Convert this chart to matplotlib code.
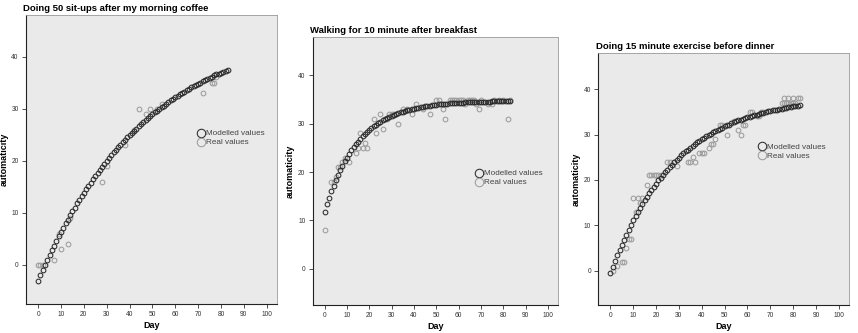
import numpy as np
import matplotlib
matplotlib.use("Agg")
import matplotlib.pyplot as plt

plt.rcParams['font.family'] = ['Liberation Sans', 'DejaVu Sans']

# modelled values, one per day 0..83
days_model = list(range(84))

model_1 = [-3.0, -2.0, -1.0, 0.0, 1.0, 1.9, 2.8, 3.7, 4.6, 5.5,
           6.3, 7.1, 8.0, 8.7, 9.5, 10.3, 11.0, 11.8, 12.5, 13.2,
           13.9, 14.5, 15.2, 15.8, 16.5, 17.1, 17.7, 18.3, 18.9, 19.4,
           20.0, 20.5, 21.1, 21.6, 22.1, 22.6, 23.1, 23.6, 24.0, 24.5,
           24.9, 25.4, 25.8, 26.2, 26.6, 27.0, 27.4, 27.8, 28.2, 28.6,
           28.9, 29.3, 29.6, 30.0, 30.3, 30.6, 31.0, 31.3, 31.6, 31.9,
           32.2, 32.5, 32.8, 33.0, 33.3, 33.6, 33.8, 34.1, 34.3, 34.6,
           34.8, 35.0, 35.3, 35.5, 35.7, 35.9, 36.1, 36.4, 36.6, 36.7,
           36.9, 37.1, 37.3, 37.5]

model_2 = [11.8, 13.3, 14.7, 16.0, 17.2, 18.3, 19.4, 20.4, 21.3, 22.2,
           23.0, 23.8, 24.5, 25.1, 25.7, 26.3, 26.9, 27.4, 27.9, 28.3,
           28.7, 29.1, 29.5, 29.8, 30.1, 30.4, 30.7, 31.0, 31.2, 31.4,
           31.6, 31.8, 32.0, 32.2, 32.4, 32.5, 32.7, 32.8, 32.9, 33.0,
           33.1, 33.2, 33.3, 33.4, 33.5, 33.6, 33.7, 33.7, 33.8, 33.8,
           33.9, 34.0, 34.0, 34.0, 34.1, 34.1, 34.2, 34.2, 34.2, 34.3,
           34.3, 34.3, 34.3, 34.4, 34.4, 34.4, 34.4, 34.4, 34.5, 34.5,
           34.5, 34.5, 34.5, 34.5, 34.5, 34.6, 34.6, 34.6, 34.6, 34.6,
           34.6, 34.6, 34.6, 34.6]

model_3 = [-0.5, 0.9, 2.2, 3.4, 4.6, 5.8, 6.9, 8.0, 9.1, 10.1,
           11.1, 12.0, 12.9, 13.8, 14.7, 15.5, 16.3, 17.1, 17.8, 18.5,
           19.2, 19.9, 20.5, 21.1, 21.7, 22.3, 22.9, 23.4, 23.9, 24.4,
           24.9, 25.4, 25.9, 26.3, 26.7, 27.1, 27.5, 27.9, 28.3, 28.6,
           29.0, 29.3, 29.6, 29.9, 30.2, 30.5, 30.8, 31.0, 31.3, 31.5,
           31.8, 32.0, 32.2, 32.5, 32.7, 32.9, 33.1, 33.3, 33.4, 33.6,
           33.8, 33.9, 34.1, 34.3, 34.4, 34.5, 34.7, 34.8, 34.9, 35.1,
           35.2, 35.3, 35.4, 35.5, 35.6, 35.7, 35.8, 35.9, 36.0, 36.1,
           36.2, 36.2, 36.3, 36.4]

# real (observed) values
days_real_1 = [0, 1, 2, 7, 9, 10, 13, 14, 28, 30, 38, 42, 44, 47, 49, 52, 54, 72, 76, 77, 78]
real_1 = [0, 0, 0, 1, 6, 3, 4, 9, 16, 19, 23, 26, 30, 29, 30, 30, 31, 33, 35, 35, 36]

days_real_2 = [0, 3, 4, 5, 6, 7, 8, 9, 11, 14, 15, 16, 17, 18, 19, 22, 23, 25, 26, 28,
               29, 30, 31, 33, 35, 37, 39, 41, 44, 47, 50, 51, 53, 54, 56, 57, 58, 59, 60, 61,
               62, 63, 64, 65, 66, 67, 68, 69, 70, 73, 75, 76, 78, 80, 82, 83]
real_2 = [8, 18, 18, 19, 21, 21, 22, 23, 22, 24, 25, 28, 25, 26, 25, 31, 28, 32, 29, 31,
          32, 32, 32, 30, 33, 33, 32, 34, 33, 32, 35, 35, 33, 31, 35, 35, 35, 35, 35, 35,
          35, 34, 35, 35, 35, 35, 34, 33, 35, 34, 34, 35, 35, 35, 31, 35]

days_real_3 = [1, 3, 5, 6, 7, 8, 9, 10, 11, 12, 13, 14, 16, 17, 18, 19, 20, 21, 22, 25,
               26, 28, 29, 34, 35, 36, 37, 39, 40, 41, 43, 44, 45, 46, 48, 49, 51, 54, 56, 57,
               58, 59, 61, 62, 64, 65, 66, 67, 75, 76, 77, 78, 79, 80, 81, 82, 83, 76, 78, 80]
real_3 = [0, 1, 2, 2, 5, 7, 7, 16, 13, 16, 15, 16, 19, 21, 21, 21, 21, 21, 21, 24,
          24, 24, 23, 24, 24, 25, 24, 26, 26, 26, 27, 28, 28, 29, 32, 32, 30, 33, 31, 30,
          32, 32, 35, 35, 34, 34, 35, 35, 37, 38, 37, 38, 37, 38, 37, 38, 38, 37, 37, 37]

titles = ["Doing 50 sit-ups after my morning coffee",
          "Walking for 10 minute after breakfast",
          "Doing 15 minute exercise before dinner"]

panels = [
    ([0.0303, 0.0871, 0.2925, 0.8679], model_1, days_real_1, real_1, (0.665, 0.574)),
    ([0.3645, 0.0841, 0.2859, 0.8057], model_2, days_real_2, real_2, (0.645, 0.473)),
    ([0.6973, 0.0841, 0.2922, 0.7577], model_3, days_real_3, real_3, (0.622, 0.608)),
]

fig = plt.figure(figsize=(8.58, 3.33), dpi=100)

for (rect, model, dreal, real, legpos), title in zip(panels, titles):
    ax = fig.add_axes(rect)
    ax.set_facecolor('#eaeaea')
    ax.plot(days_model, model, 'o', ms=3.4, mfc='none', mec='#2a2a2a', mew=0.75,
            label='Modelled values', zorder=3)
    ax.plot(dreal, real, 'o', ms=3.4, mfc='none', mec='#9c9c9c', mew=0.75,
            label='Real values', zorder=2)
    ax.set_xlim(-5.3, 104.5)
    ax.set_ylim(-7.5, 48)
    ax.set_xticks(np.arange(0, 101, 10))
    ax.set_yticks([0, 10, 20, 30, 40])
    ax.tick_params(labelsize=4.8, length=2.8, width=0.6, pad=2.5, colors='#333333')
    for s in ['top', 'right']:
        ax.spines[s].set_color('#999999')
        ax.spines[s].set_linewidth(0.6)
    for s in ['left', 'bottom']:
        ax.spines[s].set_color('#222222')
        ax.spines[s].set_linewidth(0.8)
    ax.set_xlabel('Day', fontsize=6.5, fontweight='bold', labelpad=2)
    ax.set_ylabel('automaticity', fontsize=6.5, fontweight='bold', labelpad=2)
    ax.set_title(title, fontsize=6.8, fontweight='bold', loc='left', pad=3, x=-0.01)
    ax.legend(loc='center left', bbox_to_anchor=legpos, frameon=False, fontsize=5.9,
              markerscale=1.8, handletextpad=0.1, handlelength=1.0, labelspacing=0.15,
              borderpad=0, labelcolor='#444444')

fig.savefig('out.png', dpi=100)
